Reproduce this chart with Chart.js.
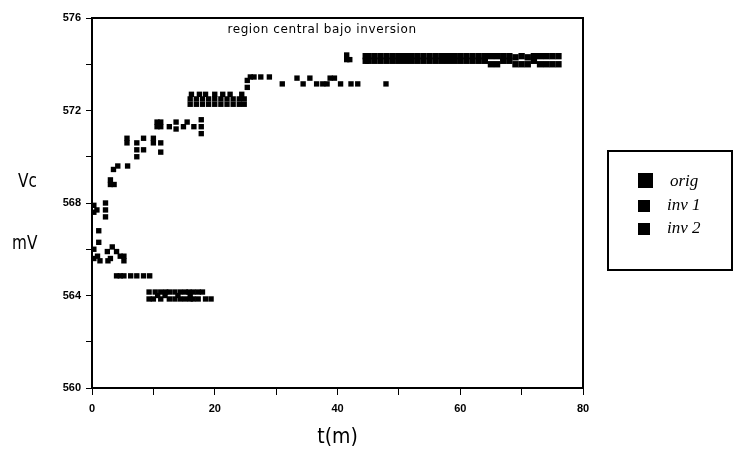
<!DOCTYPE html>
<html>
<head>
<meta charset="utf-8">
<script src="https://cdn.jsdelivr.net/npm/chart.js@4"></script>
<style>
  body { margin: 0; background: #fff; }
  #wrap { position: relative; width: 736px; height: 450px; }
  .ylab { position: absolute; font-family: "DejaVu Sans Condensed", "DejaVu Sans", sans-serif; font-size: 20px; color: #000; transform: scaleX(0.85); transform-origin: left top; }
  #legend { position: absolute; left: 607px; top: 150px; width: 126px; height: 121px; border: 2px solid #000; box-sizing: border-box; }
  .item { position: absolute; left: 29px; font-family: "Liberation Serif", "DejaVu Serif", serif; font-style: italic; font-size: 17px; line-height: 18px; }
  .sw { display: inline-block; width: 14px; height: 14px; background: #000; vertical-align: -2px; margin-right: 17px; }
</style>
</head>
<body>
<div id="wrap">
  <canvas id="chart" width="736" height="450"></canvas>
  <div class="ylab" style="left:18px;top:168px">Vc</div>
  <div class="ylab" style="left:12px;top:230px">mV</div>
  <div id="legend">
    <div class="item" style="top:20px"><span class="sw" style="width:15px;height:15px"></span>orig</div>
    <div class="item" style="top:44px"><span class="sw" style="width:12px;height:12px"></span>inv 1</div>
    <div class="item" style="top:67px"><span class="sw" style="width:12px;height:12px"></span>inv 2</div>
  </div>
</div>
<script>
const chartTitle = "region central bajo inversion"
const xTickLabels = [0, 20, 40, 60, 80]
const yTickLabels = [560, 564, 568, 572, 576]

// orig: rising curve
const origT = [0.3, 0.8, 0.3, 2.2, 2.2, 2.2,
  3.0, 3.6, 3.0, 3.5, 4.2, 5.8,
  5.7, 5.7, 7.3, 7.3, 7.3, 8.4, 8.4, 10.0, 10.0, 11.2, 11.2,
  10.6, 11.2, 10.6, 11.2, 12.6, 13.7, 13.7, 14.9, 15.5, 16.6, 17.8, 17.8, 17.8,
  16, 17, 18, 19, 20, 21, 22, 23, 24, 24.8,
  16, 17, 18, 19, 20, 21, 22, 23, 24, 24.8,
  16.2, 17.5, 18.5, 20, 21.3, 22.5, 24.4,
  25.3, 25.3, 25.8, 26.4, 27.5, 28.9, 31.0, 33.4, 34.4, 35.5, 36.6, 37.6, 38.3, 38.8, 39.5, 40.5, 42.2, 43.3, 47.9,
  41.5, 41.5, 42.0]
const origV = [567.9, 567.7, 567.6, 568.0, 567.7, 567.4,
  568.8, 568.8, 569.0, 569.45, 569.6, 569.6,
  570.8, 570.6, 570.6, 570.3, 570.0, 570.8, 570.3, 570.8, 570.6, 570.6, 570.2,
  571.5, 571.5, 571.3, 571.3, 571.3, 571.5, 571.2, 571.3, 571.5, 571.3, 571.6, 571.3, 571.0,
  572.27, 572.27, 572.27, 572.27, 572.27, 572.27, 572.27, 572.27, 572.27, 572.27,
  572.5, 572.5, 572.5, 572.5, 572.5, 572.5, 572.5, 572.5, 572.5, 572.5,
  572.7, 572.7, 572.7, 572.7, 572.7, 572.7, 572.7,
  573.0, 573.3, 573.45, 573.45, 573.45, 573.45, 573.15, 573.4, 573.15, 573.4, 573.15, 573.15, 573.15, 573.4, 573.4, 573.15, 573.15, 573.15, 573.15,
  574.4, 574.2, 574.2]
// orig: long plateau after 44 min
const plateauT = [44.6, 45, 46, 47, 48, 49, 50, 51, 52, 53, 54, 55, 56, 57, 58, 59, 60,
  61, 62, 63, 64, 65, 66, 67, 68, 69, 70, 71, 72, 73, 74, 75, 76]
const plateauLow = [574.15, 574.15, 574.15, 574.15, 574.15, 574.15, 574.15, 574.15, 574.15, 574.15, 574.15,
  574.15, 574.15, 574.15, 574.15, 574.15, 574.15, 574.15, 574.15, 574.15, 574.15, 574.0, 574.0,
  574.15, 574.15, 574.0, 574.0, 574.0, 574.15, 574.0, 574.0, 574.0, 574.0]
const plateauHigh = [574.35, 574.35, 574.35, 574.35, 574.35, 574.35, 574.35, 574.35, 574.35, 574.35, 574.35,
  574.35, 574.35, 574.35, 574.35, 574.35, 574.35, 574.35, 574.35, 574.35, 574.35, 574.35, 574.35,
  574.35, 574.35, 574.3, 574.35, 574.3, 574.35, 574.35, 574.35, 574.35, 574.35]

const inv1T = [1.1, 1.1, 0.3, 0.3, 0.9, 1.3, 2.5, 3.0, 3.3, 4.0, 4.6, 5.2, 5.2, 2.6,
  4.0, 4.6, 5.2, 6.3, 7.3, 8.4, 9.4]
const inv1V = [566.8, 566.3, 566.0, 565.6, 565.7, 565.5, 565.9, 565.6, 566.1, 565.9, 565.7, 565.7, 565.5, 565.5,
  564.85, 564.85, 564.85, 564.85, 564.85, 564.85, 564.85]

const inv2T = [9.3, 10.3, 11.2, 12.0, 12.6, 13.5, 14.4, 15.2, 15.8, 16.5, 17.3, 18.0,
  9.3, 10.0, 11.2, 12.6, 13.5, 14.4, 15.2, 16.0, 16.5, 17.3, 18.5, 19.4,
  10.7, 11.9, 14.0, 16.0]
const inv2V = [564.15, 564.15, 564.15, 564.15, 564.15, 564.15, 564.15, 564.15, 564.15, 564.15, 564.15, 564.15,
  563.85, 563.85, 563.85, 563.85, 563.85, 563.85, 563.85, 563.85, 563.85, 563.85, 563.85, 563.85,
  564.0, 564.0, 564.0, 564.0]

function pts(t, v) {
  return t.map((x, i) => ({ x: x, y: v[i] }))
}

const frame = {
  id: 'frame',
  afterDraw(chart) {
    let a = chart.chartArea, c = chart.ctx
    c.save()
    c.strokeStyle = '#000'
    c.lineWidth = 2
    c.strokeRect(a.left, a.top, a.right - a.left, a.bottom - a.top)
    c.fillStyle = '#000'
    c.font = '12px "DejaVu Sans", sans-serif'
    c.letterSpacing = '0.6px'
    c.textAlign = 'center'
    c.textBaseline = 'middle'
    c.fillText(chartTitle, 322, 30)
    c.restore()
  }
}

function style(r) {
  return { pointStyle: 'rect', pointRadius: r, pointHoverRadius: r, backgroundColor: '#000', borderWidth: 0, showLine: false }
}

new Chart(document.getElementById('chart'), {
  type: 'scatter',
  data: {
    datasets: [
      Object.assign({ label: 'orig', data: pts(origT, origV) }, style(3.8)),
      Object.assign({ label: 'orig', data: pts(plateauT, plateauLow).concat(pts(plateauT, plateauHigh)) }, style(4.5)),
      Object.assign({ label: 'inv 1', data: pts(inv1T, inv1V) }, style(3.8)),
      Object.assign({ label: 'inv 2', data: pts(inv2T, inv2V) }, style(3.8))
    ]
  },
  options: {
    responsive: false,
    animation: false,
    layout: { padding: { left: 0, right: 153, top: 18, bottom: 0 } },
    plugins: { legend: { display: false }, tooltip: { enabled: false } },
    scales: {
      x: {
        type: 'linear', min: 0, max: 80,
        afterFit: s => { s.height = 62 },
        grid: { drawOnChartArea: false, tickLength: 7, color: '#000', tickWidth: 1 },
        border: { color: '#000', width: 2 },
        ticks: {
          stepSize: 10, color: '#000', padding: 7, maxRotation: 0,
          font: { family: 'Liberation Sans, sans-serif', size: 11, weight: 'bold' },
          callback: v => xTickLabels.includes(v) ? String(v) : ''
        },
        title: {
          display: true, text: 't(m)', color: '#000', padding: { top: 0, bottom: 0 },
          font: { family: '"DejaVu Sans Condensed", sans-serif', size: 21 }
        }
      },
      y: {
        type: 'linear', min: 560, max: 576,
        afterFit: s => { s.width = 92 },
        grid: { drawOnChartArea: false, tickLength: 6, color: '#000', tickWidth: 1 },
        border: { color: '#000', width: 2 },
        ticks: {
          stepSize: 2, color: '#000', padding: 5,
          font: { family: 'Liberation Sans, sans-serif', size: 11, weight: 'bold' },
          callback: v => yTickLabels.includes(v) ? String(v) : ''
        }
      }
    }
  },
  plugins: [frame]
})
</script>
</body>
</html>
